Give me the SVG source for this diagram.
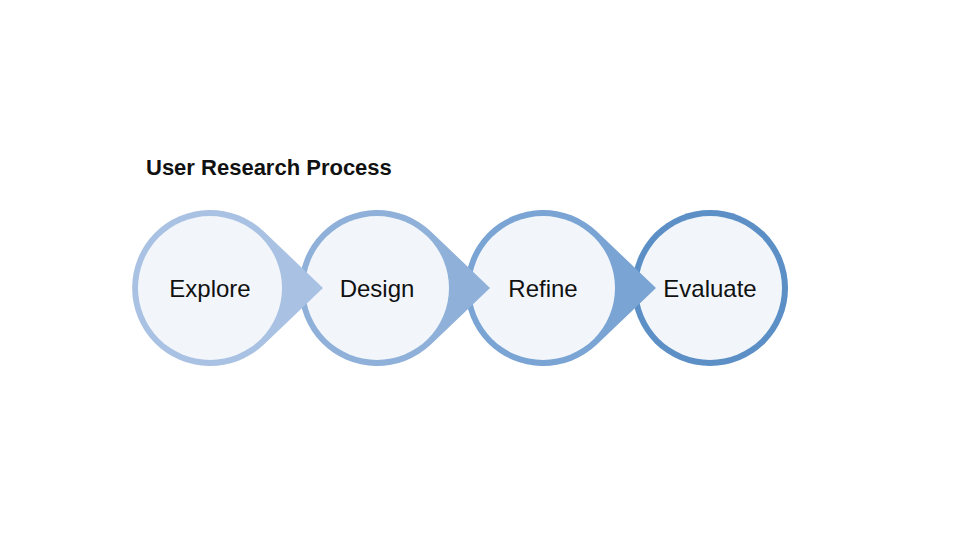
<svg xmlns="http://www.w3.org/2000/svg" width="960" height="540" viewBox="0 0 960 540">
<style>
.lbl{font-family:"Liberation Sans",Arial,sans-serif;font-size:24px;fill:#111;text-anchor:middle}
.in{fill:#f2f6fb}
</style>
<defs>
<path id="drop" d="M113 0 L53.9 -56.5 A78 78 0 1 0 53.9 56.5 Z"/>
</defs>
<rect width="960" height="540" fill="#fff"/>
<text x="146" y="175" font-family="Liberation Sans,Arial,sans-serif" font-weight="bold" font-size="22" fill="#111">User Research Process</text>
<g id="connectors"></g>
<g id="n4" transform="translate(710,288)"><circle r="78" fill="#5b8fc6"/><circle r="72" class="in" fill="#edf2f9"/><text class="lbl" y="9">Evaluate</text></g>
<g id="n3" transform="translate(543,288)"><use href="#drop" fill="#7aa4d4"/><circle r="72" class="in"/><text class="lbl" y="9">Refine</text></g>
<g id="n2" transform="translate(377,288)"><use href="#drop" fill="#8eb0d9"/><circle r="72" class="in"/><text class="lbl" y="9">Design</text></g>
<g id="n1" transform="translate(210,288)"><use href="#drop" fill="#a9c1e2"/><circle r="72" class="in" fill="#f4f7fb"/><text class="lbl" y="9">Explore</text></g>
</svg>
